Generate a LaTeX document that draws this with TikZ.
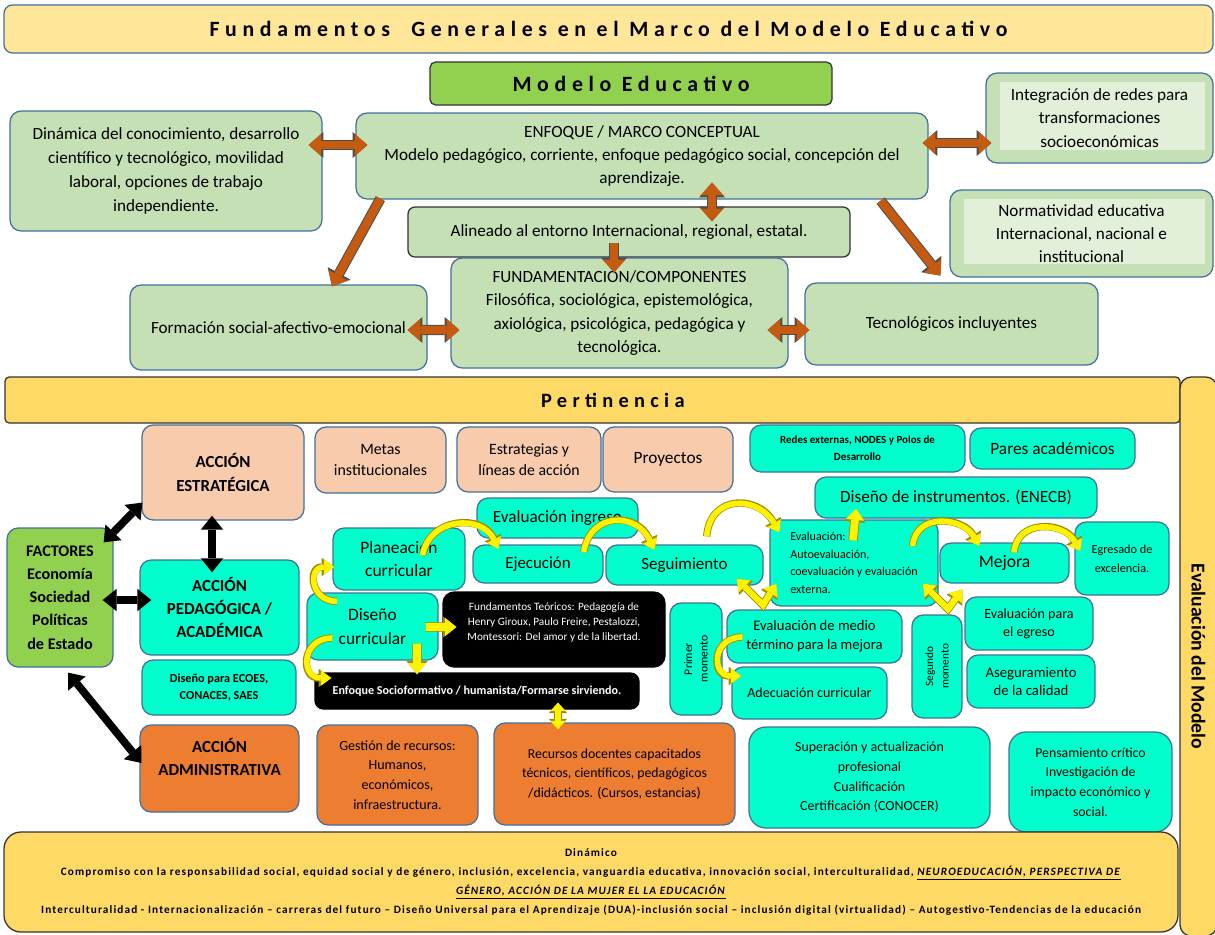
\documentclass[tikz,border=0pt]{standalone}
\usepackage{fontspec}
\setmainfont{Carlito}
\newfontfamily\spaced[LetterSpace=26]{Carlito}
\newfontfamily\wide[LetterSpace=10]{Carlito}
\usetikzlibrary{arrows.meta, calc, positioning}
\definecolor{titleyellow}{HTML}{FFE699}
\definecolor{baryellow}{HTML}{FFD966}
\definecolor{leafgreen}{HTML}{C5E0B4}
\definecolor{palegreen}{HTML}{E2F0D9}
\definecolor{factorgreen}{HTML}{92D050}
\definecolor{peach}{HTML}{F8CBAD}
\definecolor{aqua}{HTML}{00FFCC}
\definecolor{orangebox}{HTML}{ED7D31}
\definecolor{rust}{HTML}{C55A11}
\definecolor{edgeblue}{HTML}{41719C}
\definecolor{yedge}{HTML}{A08C00}
\newcommand{\fsz}[2]{\fontsize{#1}{#2}\selectfont}
\tikzset{
	box/.style={draw=edgeblue, line width=0.9pt, rounded corners=8pt, align=center, inner sep=1pt},
	wh/.style 2 args={minimum width=#1*0.025cm, minimum height=#2*0.025cm},
	gbox/.style={box, fill=leafgreen, font=\fsz{12.2}{17}},
	inner/.style={path picture={\fill[palegreen, sharp corners] ($(path picture bounding box.north west)+(14,9)$) rectangle ($(path picture bounding box.south east)+(-8,-13)$);}},
	abox/.style={box, fill=aqua},
	pbox/.style={box, fill=peach},
	obox/.style={box, fill=orangebox},
	kbox/.style={box, draw=black, fill=black, text=white},
	ybar/.style={draw=black!80, line width=0.9pt, fill=baryellow, rounded corners=3pt, align=center},
	oarr/.style={draw=rust, line width=6pt, -{Triangle[width=16pt,length=9pt,line width=0pt]},
		preaction={draw=black!70, line width=7.4pt, -{Triangle[width=18.5pt,length=10.5pt,line width=0pt]}}},
	oarr2/.style={draw=rust, line width=6pt, {Triangle[width=16pt,length=9pt,line width=0pt]}-{Triangle[width=16pt,length=9pt,line width=0pt]},
		preaction={draw=black!70, line width=7.4pt, {Triangle[width=18.5pt,length=10.5pt,line width=0pt]}-{Triangle[width=18.5pt,length=10.5pt,line width=0pt]}}},
	karr/.style={draw=black, line width=5.5pt, {Triangle[width=16pt,length=10pt,line width=0pt]}-{Triangle[width=16pt,length=10pt,line width=0pt]}},
	yarr/.style={draw=yellow, line width=4pt, -{Triangle[width=11pt,length=7.5pt,line width=0pt]},
		preaction={draw=yedge, line width=5.2pt, -{Triangle[width=13pt,length=9pt,line width=0pt]}}},
	yarr2/.style={draw=yellow, line width=4.5pt, line join=miter, {Triangle[width=12pt,length=8pt,line width=0pt]}-{Triangle[width=12pt,length=8pt,line width=0pt]},
		preaction={draw=yedge, line width=5.7pt, {Triangle[width=14pt,length=9.5pt,line width=0pt]}-{Triangle[width=14pt,length=9.5pt,line width=0pt]}}},
	ybig/.style={draw=yellow, line width=5.5pt, -{Triangle[width=13pt,length=8pt,line width=0pt]},
		preaction={draw=yedge, line width=6.7pt, -{Triangle[width=15pt,length=9.5pt,line width=0pt]}}},
	ybig2/.style={draw=yellow, line width=4.5pt, {Triangle[width=11pt,length=6pt,line width=0pt]}-{Triangle[width=11pt,length=6pt,line width=0pt]},
		preaction={draw=yedge, line width=5.7pt, {Triangle[width=13pt,length=7.5pt,line width=0pt]}-{Triangle[width=13pt,length=7.5pt,line width=0pt]}}}
}

\begin{document}
\begin{tikzpicture}[x=0.025cm, y=-0.025cm]
	\useasboundingbox[fill=white] (0,0) rectangle (1215,934);
	
	% Titulos
	\node[ybar, fill=titleyellow, draw=edgeblue, rounded corners=6pt, wh={1209}{48}, font=\spaced\bfseries\fsz{15.5}{18}] (titulo) at (608.5,29) {Fundamentos\ \ Generales en el Marco del Modelo Educativo};
	\node[box, draw=black!80, fill=factorgreen, rounded corners=4pt, wh={402}{43}, font=\spaced\bfseries\fsz{15.5}{18}] (modelo) at (631,83.5) {Modelo Educativo};
	
	% Modelo educativo
	\node[gbox, wh={312}{120}] (dinamica) at (166,171) {Dinámica del conocimiento, desarrollo\\científico y tecnológico, movilidad\\laboral, opciones de trabajo\\independiente.};
	\node[gbox, wh={572}{86}, font=\fsz{12.2}{16.7}] (enfoque) at (642,156) {ENFOQUE / MARCO CONCEPTUAL\\Modelo pedagógico, corriente, enfoque pedagógico social, concepción del\\aprendizaje.};
	\node[gbox, inner, wh={227}{90}, font=\fsz{12.2}{16.5}] (integra) at (1099.5,118) {Integración de redes para\\transformaciones\\socioeconómicas};
	\node[gbox, draw=black!80, rounded corners=5pt, wh={442}{50}] (alineado) at (629,232) {Alineado al entorno Internacional, regional, estatal.};
	\node[gbox, inner, wh={263}{87}, font=\fsz{12.2}{16.5}] (norma) at (1081.5,233.5) {Normatividad educativa\\Internacional, nacional e\\institucional};
	\node[gbox, wh={337}{110}, font=\fsz{12.2}{16.6}] (fundam) at (619.5,313) {FUNDAMENTACION/COMPONENTES\\Filosófica, sociológica, epistemológica,\\axiológica, psicológica, pedagógica y\\tecnológica.};
	\node[gbox, wh={297}{85}] (formacion) at (278.5,327.5) {Formación social-afectivo-emocional};
	\node[gbox, wh={293}{82}] (tecno) at (951.5,324) {Tecnológicos incluyentes};
	
	% Barras
	\node[ybar, wh={1175}{46}, font=\spaced\bfseries\fsz{14.5}{17}] (pertinencia) at (592.5,400) {\hspace*{29pt}Pertinencia};
	\node[ybar, rounded corners=8pt, rotate=-90, wh={559}{37}, font=\bfseries\fsz{14}{16}] (evalmod) at (1198.5,656.5) {Evaluación del Modelo};
	
	% Acciones
	\node[box, fill=factorgreen, wh={106}{139}, font=\bfseries\fsz{11.5}{16.5}] (factores) at (60,597.5) {FACTORES\\Economía\\Sociedad\\Políticas\\de Estado};
	\node[pbox, wh={162}{95}, font=\bfseries\fsz{12}{16.5}] (estrat) at (223,472.5) {ACCIÓN\\ESTRATÉGICA};
	\node[abox, wh={159}{95}, font=\bfseries\fsz{12}{16.5}] (pedag) at (219.5,607.5) {ACCIÓN\\PEDAGÓGICA /\\ACADÉMICA};
	\node[abox, wh={154}{55}, font=\bfseries\fsz{8.7}{12.5}] (ecoes) at (219,687.5) {Diseño para ECOES,\\CONACES, SAES};
	\node[obox, wh={159}{87}, font=\bfseries\fsz{12}{16.5}] (admin) at (219.5,768.5) {ACCIÓN\\ADMINISTRATIVA\\~};
	
	% Pertinencia
	\node[pbox, wh={131}{66}, font=\fsz{11.3}{15}] (metas) at (380.5,460) {Metas\\institucionales};
	\node[pbox, wh={144}{65}, font=\fsz{11.2}{15}] (estrateg) at (529,459.5) {Estrategias y\\líneas de acción};
	\node[pbox, wh={130}{65}, font=\fsz{12.3}{15}] (proyectos) at (668,459.5) {Proyectos};
	\node[abox, wh={215}{47}, font=\bfseries\fsz{7.8}{12}] (redes) at (857.5,448.5) {Redes externas, NODES y Polos de\\Desarrollo};
	\node[abox, wh={165}{41}, font=\fsz{12.3}{15}] (pares) at (1052.5,448.5) {Pares académicos};
	\node[abox, wh={282}{41}, font=\fsz{12.2}{15}] (instr) at (956,497.5) {Diseño de instrumentos. (ENECB)};
	\node[abox, wh={161}{40}, font=\fsz{12.2}{15}] (ingreso) at (557.5,518) {Evaluación ingreso};
	\node[abox, wh={132}{62}, font=\fsz{12.4}{16.5}] (planea) at (399,559) {Planeacion\\curricular};
	\node[abox, wh={130}{38}, font=\fsz{12}{15}] (ejecu) at (538,564) {Ejecución};
	\node[abox, wh={157}{40}, font=\fsz{12.1}{15}] (segui) at (684.5,565) {Seguimiento};
	\node[abox, wh={131}{67}, font=\fsz{12.4}{16.5}] (disenocur) at (372.5,626.5) {Diseño\\curricular};
	\node[kbox, wh={222}{75}, font=\fsz{8}{10.7}] (teoria) at (554,629.5) {Fundamentos Teóricos: Pedagogía de\\Henry Giroux, Paulo Freire, Pestalozzi,\\Montessori: Del amor y de la libertad.\\~};
	\node[kbox, rounded corners=6pt, wh={324}{36}, font=\bfseries\fsz{8.6}{10}] (enfoqsoc) at (477,691) {Enfoque Socioformativo / humanista/Formarse sirviendo.};
	\node[abox, align=left, wh={168}{86}, font=\fsz{8.6}{12.5}] (evalua) at (854,563) {Evaluación:\\Autoevaluación,\\coevaluación y evaluación\\externa.};
	\node[abox, wh={129}{40}, font=\fsz{12.5}{15}] (mejora) at (1004.5,563) {Mejora};
	\node[abox, wh={94}{73}, font=\fsz{8.7}{13.5}] (egresado) at (1122,558.5) {Egresado de\\excelencia.};
	\node[abox, wh={128}{53}, font=\fsz{10}{13}] (paraegreso) at (1029,623.5) {Evaluación para\\el egreso};
	\node[abox, wh={128}{53}, font=\fsz{10.5}{13}] (asegura) at (1031,681.5) {Aseguramiento\\de la calidad};
	\node[abox, rotate=90, wh={112}{52}, font=\fsz{8.3}{11}] (primer) at (696,659) {Primer\\momento};
	\node[abox, wh={175}{53}, font=\fsz{10.4}{13.5}] (mediot) at (814.5,636.5) {Evaluación de medio\\término para la mejora};
	\node[abox, wh={155}{52}, font=\fsz{10}{13}] (adecua) at (809.5,693) {Adecuación curricular};
	\node[abox, rotate=90, wh={103}{50}, font=\fsz{8}{11}] (segundo) at (937,666.5) {Segundo\\momento};
	
	% Recursos
	\node[obox, wh={161}{100}, font=\fsz{10}{14}] (gestion) at (397.5,775) {Gestión de recursos:\\Humanos,\\económicos,\\infraestructura.};
	\node[obox, wh={241}{102}, font=\fsz{9.8}{14}] (recdoc) at (614.5,774) {Recursos docentes capacitados\\técnicos, científicos, pedagógicos\\/didácticos. (Cursos, estancias)};
	\node[abox, rounded corners=12pt, wh={241}{101}, font=\fsz{9.9}{14}] (superac) at (869.5,777.5) {Superación y actualización\\profesional\\Cualificación\\Certificación (CONOCER)};
	\node[abox, rounded corners=12pt, wh={163}{100}, font=\fsz{9.8}{14}] (pensam) at (1090.5,782) {Pensamiento crítico\\Investigación de\\impacto económico y\\social.};
	
	% Dinamico
	\node[ybar, rounded corners=12pt, wh={1174}{100}, font=\wide\bfseries\fsz{8}{13.7}] (dinamico) at (591,882) {Dinámico\\Compromiso con la responsabilidad social, equidad social y de género, inclusión, excelencia, vanguardia educativa, innovación social, interculturalidad, \underline{\textit{NEUROEDUCACIÓN, PERSPECTIVA DE}}\\\underline{\textit{GÉNERO, ACCIÓN DE LA MUJER EL LA EDUCACIÓN}}\\Interculturalidad - Internacionalización – carreras del futuro – Diseño Universal para el Aprendizaje (DUA)-inclusión social – inclusión digital (virtualidad) – Autogestivo-Tendencias de la educación};
	
	% Flechas naranjas
	\draw[oarr2] ($(dinamica.east)+(-14,-26)$) -- ($(enfoque.west)+(12,-11)$);
	\draw[oarr2] ($(enfoque.east)+(-6,-13)$) -- ($(integra.west)+(6,25)$);
	\draw[oarr2] ($(enfoque.south)+(70,-17)$) -- ($(alineado.north)+(83,15)$);
	\draw[oarr] ($(alineado.south)+(-15,-15)$) -- ($(fundam.north)+(-5.5,15)$);
	\draw[oarr] ($(enfoque.south west)+(25,-1)$) -- ($(formacion.north)+(53.5,2)$);
	\draw[oarr] ($(enfoque.south east)+(-48,1)$) -- ($(norma.south west)+(-9,-2)$);
	\draw[oarr2] ($(formacion.east)+(-20,2.5)$) -- ($(fundam.west)+(9,17)$);
	\draw[oarr2] ($(fundam.east)+(-21,17)$) -- ($(tecno.west)+(5,6)$);
	
	% Flechas negras
	\draw[karr] ($(factores.north east)+(-10,15)$) -- ($(estrat.south west)+(1,-18)$);
	\draw[karr] ($(estrat.south)+(-11,-5)$) -- ($(pedag.north)+(-7.5,13)$);
	\draw[karr] ($(factores.east)+(-11,2.5)$) -- ($(pedag.west)+(12,-7.5)$);
	\draw[karr] ($(factores.south)+(8,5)$) -- ($(admin.west)+(2,-5.5)$);
	
	% Flechas amarillas
	\draw[yarr] ($(planea.east)+(-43,-4)$) to[out=80, in=115, looseness=1.3] ($(ejecu.west)+(26,-15)$);
	\draw[yarr] ($(ejecu.east)+(-20,-12)$) to[out=80, in=115, looseness=1.5] ($(segui.west)+(49,-15)$);
	\draw[yarr] ($(segui.north east)+(-57,-8)$) to[out=85, in=120, looseness=1.5] ($(evalua.north west)+(10,13)$);
	\draw[ybig] ($(evalua.north)+(-1,21)$) -- ($(instr.south)+(-100,-10)$);
	\draw[yarr] ($(evalua.east)+(-26,-17)$) to[out=85, in=120, looseness=1.3] ($(mejora.west)+(40,-17)$);
	\draw[yarr] ($(mejora.north)+(9.5,10)$) to[out=85, in=120, looseness=1.3] ($(egresado.west)+(6,-7.5)$);
	\coordinate (v1) at (763,605);
	\draw[yarr2] ($(segui.south east)+(-27,-7)$) -- (v1) -- ($(evalua.south west)+(7,-23)$);
	\coordinate (v2) at (948,609);
	\draw[yarr2] ($(evalua.south east)+(-16,-23)$) -- (v2) -- ($(paraegreso.north west)+(-2,-7)$);
	\draw[yarr] ($(disenocur.north)+(-35.5,9)$) to[out=180, in=180, looseness=2] ($(planea.west)+(2,8)$);
	\draw[yarr] ($(disenocur.west)+(26,11.5)$) to[out=180, in=180, looseness=2] ($(enfoqsoc.west)+(17,-13)$);
	\draw[ybig] ($(disenocur.east)+(-13,0.5)$) -- ($(teoria.west)+(14,-2.5)$);
	\draw[ybig] ($(disenocur.south)+(44.5,-17)$) -- ($(enfoqsoc.north)+(-60,2)$);
	\draw[ybig2] ($(enfoqsoc.south)+(81,-7)$) -- ($(recdoc.north)+(-56.5,7)$);
	\draw[yarr] ($(mediot.west)+(16,0.5)$) to[out=180, in=180, looseness=2] ($(adecua.west)+(10,-17)$);
\end{tikzpicture}
\end{document}
